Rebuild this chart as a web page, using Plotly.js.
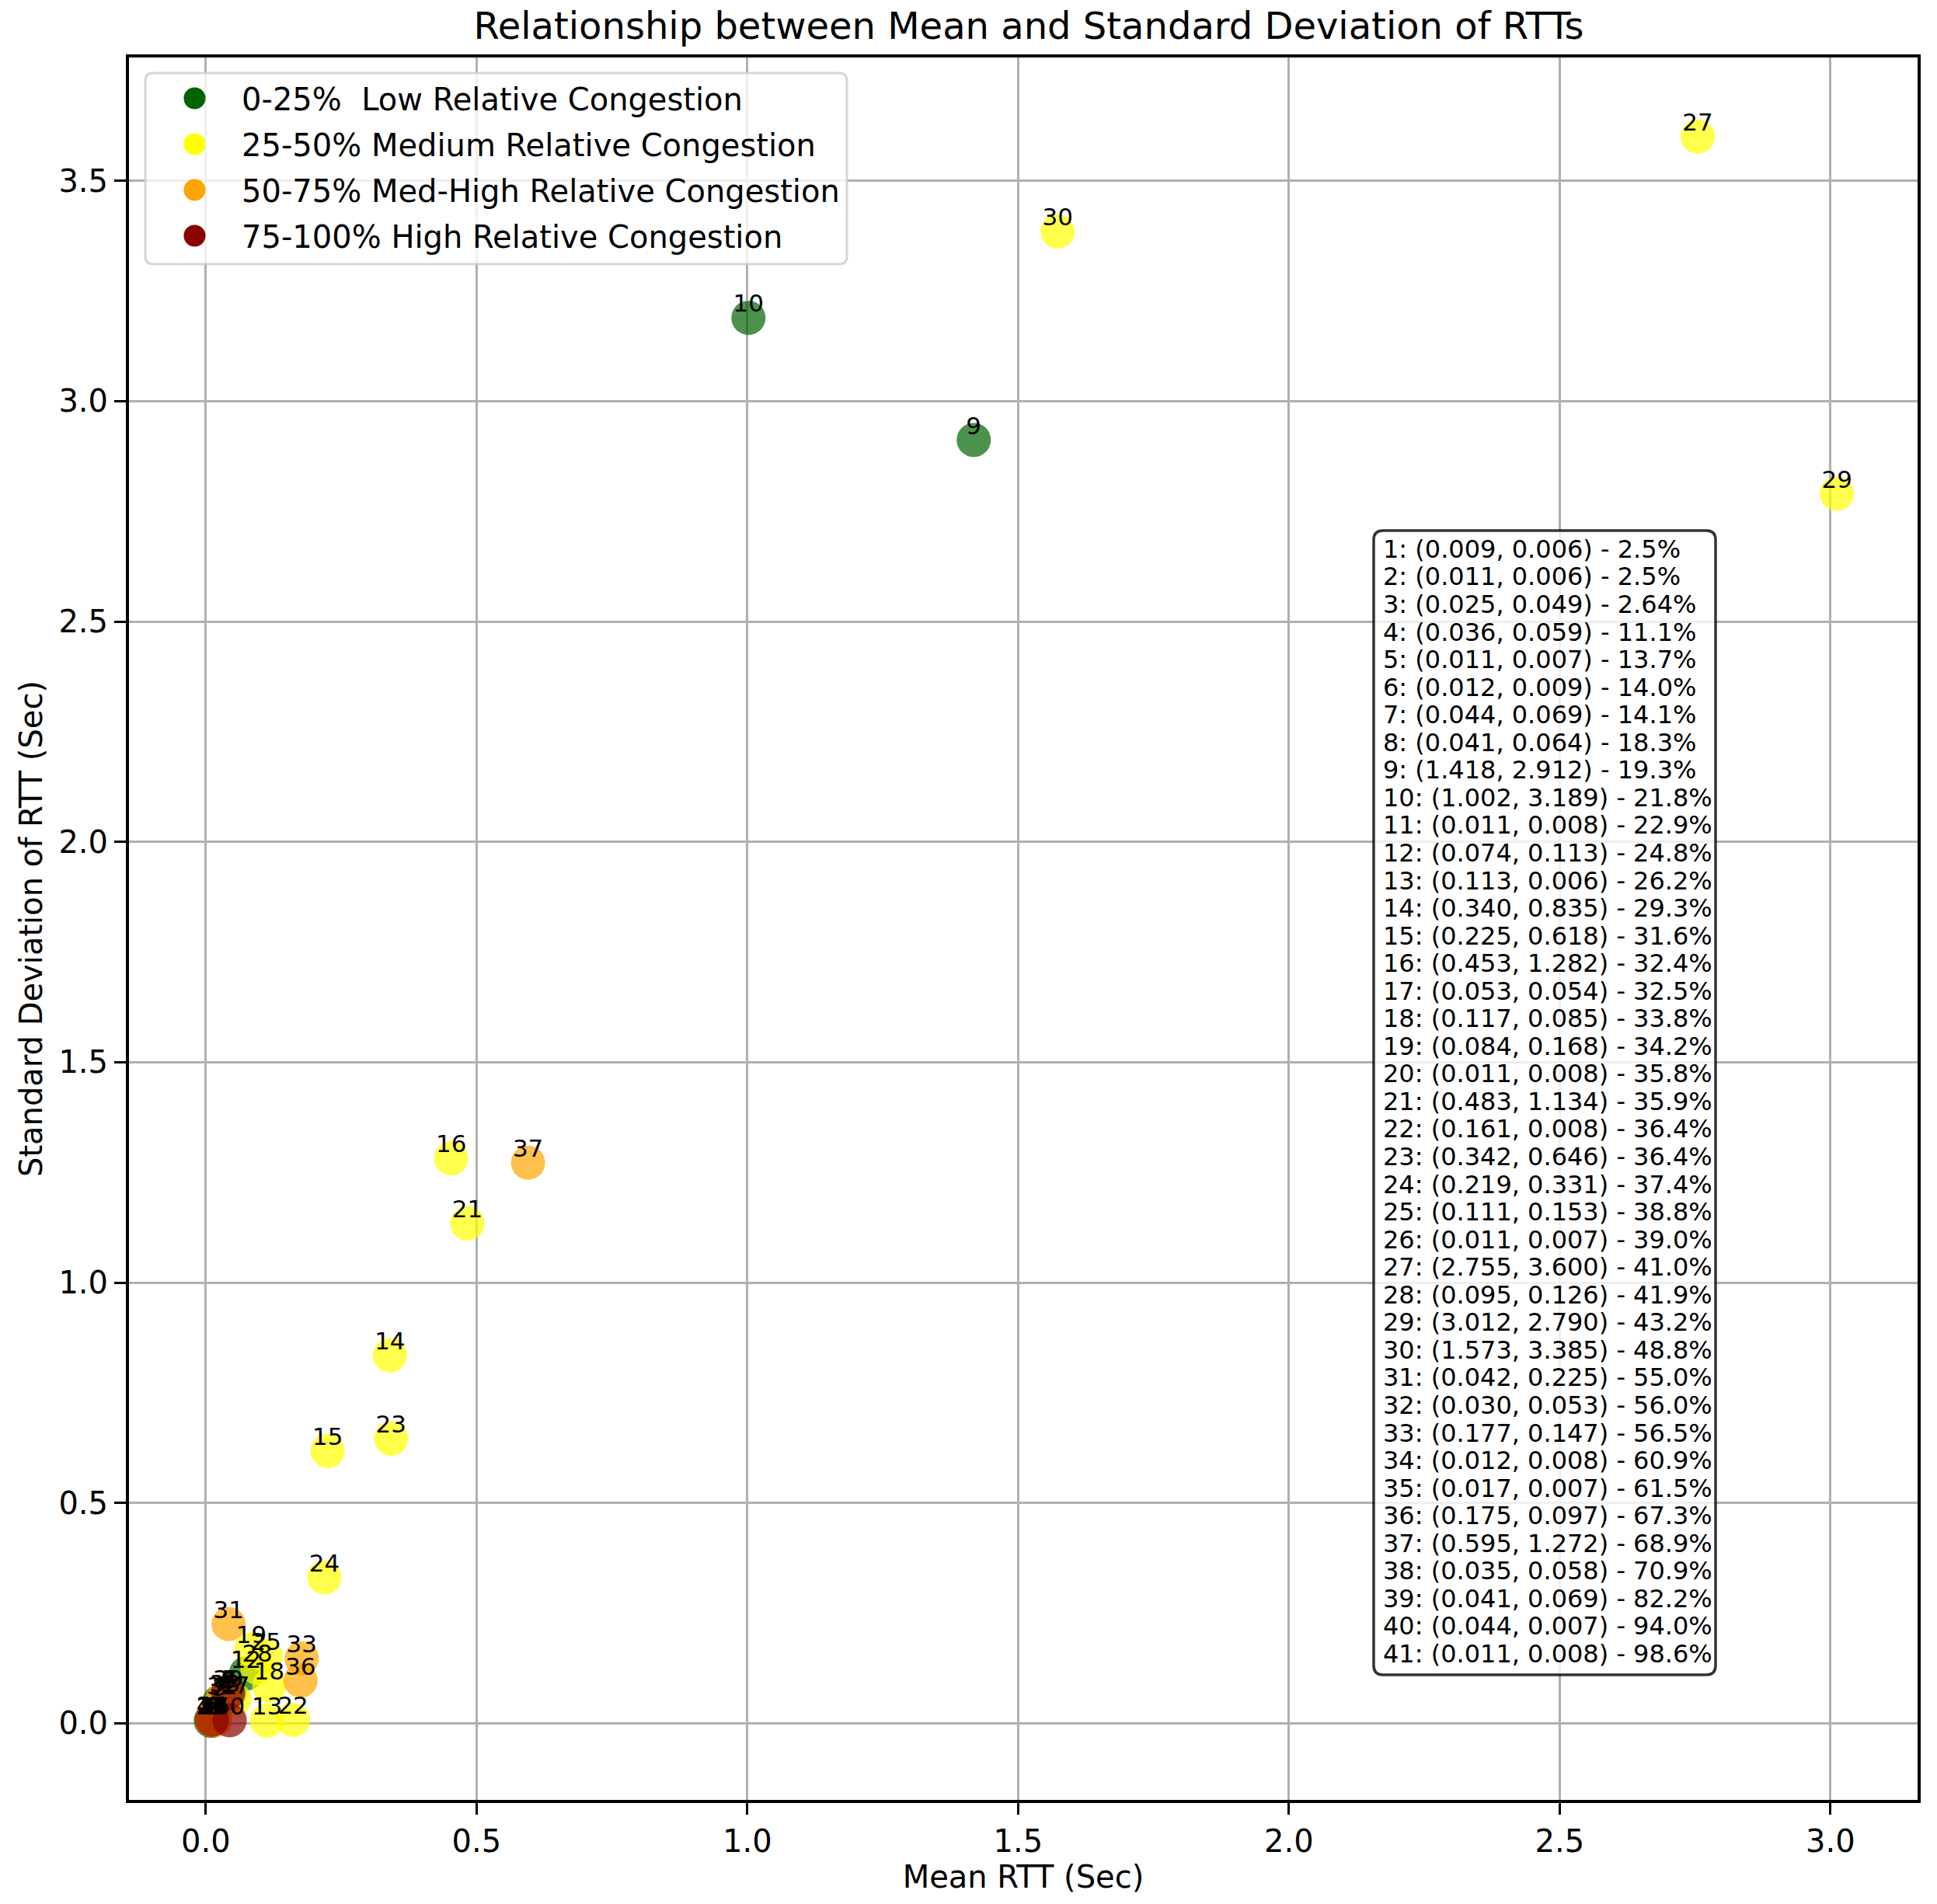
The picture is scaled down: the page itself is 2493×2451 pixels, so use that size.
<!DOCTYPE html>
<html>
<head>
<meta charset="utf-8">
<script src="https://cdn.plot.ly/plotly-3.0.1.min.js"></script>
<style>
html, body { margin: 0; padding: 0; background: #ffffff; }
#chart { width: 2493px; height: 2451px; }
</style>
</head>
<body>
<div id="chart"></div>
<script>
// ---------------- data ----------------
const pointIds = [1,2,3,4,5,6,7,8,9,10,11,12,13,14,15,16,17,18,19,20,21,22,23,24,25,26,27,28,29,30,31,32,33,34,35,36,37,38,39,40,41];
const meanRtt = [0.009,0.011,0.025,0.036,0.011,0.012,0.044,0.041,1.418,1.002,0.011,0.074,0.113,0.340,0.225,0.453,0.053,0.117,0.084,0.011,0.483,0.161,0.342,0.219,0.111,0.011,2.755,0.095,3.012,1.573,0.042,0.030,0.177,0.012,0.017,0.175,0.595,0.035,0.041,0.044,0.011];
const stdRtt = [0.006,0.006,0.049,0.059,0.007,0.009,0.069,0.064,2.912,3.189,0.008,0.113,0.006,0.835,0.618,1.282,0.054,0.085,0.168,0.008,1.134,0.008,0.646,0.331,0.153,0.007,3.600,0.126,2.790,3.385,0.225,0.053,0.147,0.008,0.007,0.097,1.272,0.058,0.069,0.007,0.008];
const congestionPct = [2.5,2.5,2.64,11.1,13.7,14.0,14.1,18.3,19.3,21.8,22.9,24.8,26.2,29.3,31.6,32.4,32.5,33.8,34.2,35.8,35.9,36.4,36.4,37.4,38.8,39.0,41.0,41.9,43.2,48.8,55.0,56.0,56.5,60.9,61.5,67.3,68.9,70.9,82.2,94.0,98.6];
const bandNames = ["0-25%\u00a0 Low Relative Congestion", "25-50% Medium Relative Congestion", "50-75% Med-High Relative Congestion", "75-100% High Relative Congestion"];
const bandColors = ["#006400", "#ffff00", "#ffa500", "#8b0000"];
const xTickVals = [0.0, 0.5, 1.0, 1.5, 2.0, 2.5, 3.0];
const yTickVals = [0.0, 0.5, 1.0, 1.5, 2.0, 2.5, 3.0, 3.5];

// ---------------- helpers ----------------
function bandOf(p) { return p < 25 ? 0 : p < 50 ? 1 : p < 75 ? 2 : 3; }
function pctText(p) { return (Math.round(p * 10) / 10 === p) ? p.toFixed(1) : String(p); }

// figure geometry (pixels)
const FIG_W = 2493, FIG_H = 2451;
const PL = 166, PR = 2468, PT = 74, PB = 2317;
const PW = PR - PL, PH = PB - PT;
const px = v => (v - PL) / PW;
const py = v => (PB - v) / PH;

function roundRectPath(x0, y0, x1, y1, r) {
  const X0 = px(x0), X1 = px(x1), Y0 = py(y0), Y1 = py(y1);
  const rx = r / PW, ry = r / PH;
  return `M ${X0 + rx},${Y0} L ${X1 - rx},${Y0} Q ${X1},${Y0} ${X1},${Y0 - ry} ` +
         `L ${X1},${Y1 + ry} Q ${X1},${Y1} ${X1 - rx},${Y1} L ${X0 + rx},${Y1} ` +
         `Q ${X0},${Y1} ${X0},${Y1 + ry} L ${X0},${Y0 - ry} Q ${X0},${Y0} ${X0 + rx},${Y0} Z`;
}

// ---------------- traces ----------------
const pointColors = congestionPct.map(p => bandColors[bandOf(p)]);

const traces = [];
traces.push({
  type: 'scatter', mode: 'markers',
  x: meanRtt, y: stdRtt,
  marker: { color: pointColors, size: 44, opacity: 0.7, line: { width: 0 } },
  showlegend: false, hoverinfo: 'x+y'
});
bandNames.forEach((name, i) => {
  traces.push({
    type: 'scatter', mode: 'markers', name: name, legendgroup: 'band' + i,
    x: [null], y: [null],
    marker: { color: bandColors[i], size: 16, opacity: 1 },
    showlegend: true, hoverinfo: 'skip'
  });
});
traces.push({
  type: 'scatter', mode: 'text',
  x: meanRtt, y: stdRtt,
  text: pointIds.map(String),
  textposition: 'top center',
  textfont: { family: 'DejaVu Sans', size: 31, color: '#000000' },
  showlegend: false, hoverinfo: 'skip'
});

// ---------------- info box ----------------
const infoLines = pointIds.map((id, i) =>
  `${id}: (${meanRtt[i].toFixed(3)}, ${stdRtt[i].toFixed(3)}) - ${pctText(congestionPct[i])}%`);
const BOX = { x0: 1768, x1: 2208, y0: 683, y1: 2156 };
const FIRST_BASELINE = 718, LINE_STEP = 35.55, INFO_FONT = 32;
const annotations = infoLines.map((t, i) => ({
  xref: 'paper', yref: 'paper',
  x: px(1779), y: py(FIRST_BASELINE + i * LINE_STEP - 0.346 * INFO_FONT),
  xanchor: 'left', yanchor: 'middle',
  text: t, showarrow: false, borderpad: 0,
  font: { family: 'DejaVu Sans', size: INFO_FONT, color: '#000000' }
}));

const shapes = [
  { type: 'path', xref: 'paper', yref: 'paper', layer: 'above',
    path: roundRectPath(BOX.x0, BOX.y0, BOX.x1, BOX.y1, 12),
    fillcolor: 'rgba(255,255,255,0.8)', line: { color: 'rgba(0,0,0,0.8)', width: 3.5 } },
  { type: 'path', xref: 'paper', yref: 'paper', layer: 'above',
    path: roundRectPath(187, 94, 1090, 340, 10),
    fillcolor: 'rgba(255,255,255,0.8)', line: { color: 'rgba(204,204,204,0.8)', width: 3 } }
];

// ---------------- layout ----------------
const axisCommon = {
  showgrid: true, gridcolor: '#b0b0b0', gridwidth: 3,
  zeroline: false,
  showline: true, linecolor: '#000000', linewidth: 4, mirror: true,
  ticks: 'outside', ticklen: 15, tickwidth: 3, tickcolor: '#000000',
  tickfont: { family: 'DejaVu Sans', size: 40, color: '#000000' },
  tickformat: '.1f', tickmode: 'array'
};

const layout = {
  width: FIG_W, height: FIG_H,
  margin: { l: PL, r: FIG_W - PR, t: PT, b: FIG_H - PB, pad: 0 },
  paper_bgcolor: '#ffffff', plot_bgcolor: '#ffffff',
  font: { family: 'DejaVu Sans', color: '#000000' },
  title: {
    text: 'Relationship between Mean and Standard Deviation of RTTs',
    font: { family: 'DejaVu Sans', size: 48, color: '#000000' },
    xref: 'paper', x: 0.5 + 7 / PW, xanchor: 'center',
    yref: 'container', y: 1 - 33 / FIG_H, yanchor: 'middle'
  },
  xaxis: Object.assign({}, axisCommon, {
    range: [-0.1419, 3.1609], tickvals: xTickVals,
    title: { text: 'Mean RTT (Sec)', font: { family: 'DejaVu Sans', size: 40, color: '#000000' }, standoff: 10 }
  }),
  yaxis: Object.assign({}, axisCommon, {
    range: [-0.1737, 3.7797], tickvals: yTickVals,
    title: { text: 'Standard Deviation of RTT (Sec)', font: { family: 'DejaVu Sans', size: 40, color: '#000000' }, standoff: 9 }
  }),
  showlegend: true,
  legend: {
    x: px(190), y: py(94), xanchor: 'left', yanchor: 'top',
    bgcolor: 'rgba(0,0,0,0)', borderwidth: 0,
    font: { family: 'DejaVu Sans', size: 40, color: '#000000' },
    itemwidth: 111, traceorder: 'grouped', tracegroupgap: 4
  },
  shapes: shapes,
  annotations: annotations
};

function enlargeLegendMarkers(gd) {
  gd.querySelectorAll('.legend .legendpoints path.scatterpts').forEach(p => {
    const t = p.getAttribute('transform') || '';
    if (t.indexOf('scale') === -1) p.setAttribute('transform', t + ' scale(1.75)');
  });
}

Plotly.newPlot('chart', traces, layout, { staticPlot: true, displayModeBar: false }).then(gd => {
  enlargeLegendMarkers(gd);
  gd.on('plotly_afterplot', () => enlargeLegendMarkers(gd));
});
</script>
</body>
</html>
